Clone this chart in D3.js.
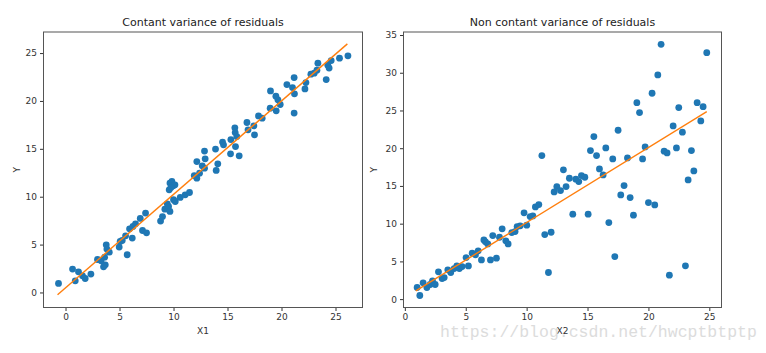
<!DOCTYPE html>
<html>
<head>
<meta charset="utf-8">
<script src="https://cdn.jsdelivr.net/npm/d3@7"></script>
<style>
  body { margin: 0; background: #fff; }
  text { font-family: "DejaVu Sans", sans-serif; }
</style>
</head>
<body>
<div id="chart"></div>
<script>
// left panel: constant variance
const x1 = [-0.65,0.65,0.9,1.2,1.57,1.82,2.35,2.96,3.3,3.52,3.68,3.62,3.77,3.83,4.05,4.97,5.06,5.25,5.56,5.71,
  5.93,6.18,6.24,6.48,6.92,7.13,7.5,7.41,8.8,8.98,9.2,9.42,9.54,9.67,9.6,9.67,9.85,9.97,10.13,9.76,
  10.0,10.16,10.62,11.08,11.48,11.92,12.16,12.41,12.16,12.66,12.87,13.95,14.1,12.87,12.93,13.89,14.54,14.63,15.28,15.31,
  15.74,15.68,15.71,16.08,15.86,16.8,16.9,17.44,17.5,17.87,18.21,18.98,18.95,19.48,19.51,19.67,19.88,20.5,21.02,21.17,
  21.2,21.17,22.17,22.26,22.72,23.03,23.28,23.37,24.14,24.29,24.41,24.6,25.37,26.15]
const y1 = [0.94,2.44,1.22,2.16,1.74,1.46,1.92,3.44,3.31,2.68,2.89,3.69,4.98,4.53,4.21,4.74,5.33,5.43,5.92,3.94,
  6.65,5.68,6.89,7.17,7.73,6.47,6.23,8.29,7.45,7.93,8.7,9.26,8.98,8.46,10.72,11.42,11.59,11.14,11.24,10.96,
  9.68,9.5,9.92,10.2,10.44,12.21,11.94,12.46,13.67,13.23,12.98,12.74,13.43,14.76,13.96,14.97,15.7,15.42,14.48,15.97,
  15.24,17.19,16.7,14.27,16.28,17.75,16.98,17.4,16.46,18.44,18.2,21.05,19.25,20.5,18.97,20.12,19.63,21.71,21.4,22.44,
  20.74,18.73,21.26,21.92,22.8,22.9,23.21,23.94,22.23,23.74,23.43,24.22,24.47,24.71]
const fit1X = [-0.74, 26.1]
const fit1Y = [-0.24, 25.96]

// right panel: non constant variance
const x2 = [1.01,1.23,1.5,1.81,2.08,2.27,2.49,2.76,3.06,3.23,3.53,3.77,4.05,4.27,4.48,4.7,5.03,5.22,5.53,5.8,
  6.02,6.29,6.49,6.62,6.81,7.03,7.22,7.52,7.77,7.99,8.29,8.48,8.78,9.05,9.22,9.47,9.79,10.01,10.29,10.51,
  10.72,11.0,11.49,12.01,11.79,12.26,12.48,12.78,13.02,13.24,13.51,13.79,14.04,14.28,14.5,14.78,15.05,15.98,16.28,16.75,
  17.24,17.73,18.0,18.5,18.77,20.0,20.52,21.72,23.04,23.26,23.73,11.25,15.24,15.52,15.74,16.5,17.07,17.51,18.28,19.05,
  19.27,19.52,19.73,20.3,20.77,21.04,21.29,21.53,22.03,22.3,22.49,22.79,23.53,24.0,24.3,24.49,24.79]
const y2 = [1.54,0.48,2.16,1.54,1.94,2.42,1.94,3.62,2.73,2.86,3.88,3.53,4.05,4.4,4.05,4.31,5.51,4.4,6.09,5.87,
  6.4,5.2,7.85,7.59,7.32,5.2,8.42,5.43,8.2,9.31,7.72,7.32,8.82,8.95,9.62,9.71,11.43,9.8,10.94,11.03,
  12.22,12.53,8.56,8.86,3.53,14.21,14.92,14.39,17.13,14.92,16.02,11.26,15.89,15.58,16.37,16.15,11.26,17.26,16.46,10.15,
  5.64,13.81,15.05,13.46,11.13,12.8,12.49,3.18,4.41,15.8,16.99,19.02,19.68,21.54,19.02,20.04,18.58,22.38,18.71,26.04,
  24.72,18.58,20.17,27.28,29.71,33.77,19.6,19.38,22.95,20.04,25.38,22.12,19.68,26.04,23.62,25.51,32.66]
const fit2X = [0.9, 24.79]
const fit2Y = [1.1, 24.85]

const ticks1X = [0, 5, 10, 15, 20, 25]
const ticks1Y = [0, 5, 10, 15, 20, 25]
const ticks2X = [0, 5, 10, 15, 20, 25]
const ticks2Y = [0, 5, 10, 15, 20, 25, 30, 35]

const W = 766, H = 353

let svg = d3.select("#chart").append("svg")
  .attr("width", W)
  .attr("height", H)

function panel(opt) {
  let g = svg.append("g")
  let xs = d3.scaleLinear().domain(opt.xDom).range([opt.left, opt.right])
  let ys = d3.scaleLinear().domain(opt.yDom).range([opt.bottom, opt.top])

  // axes (ticks + labels)
  let xAxis = d3.axisBottom(xs).tickValues(opt.xTicks).tickSize(3.5).tickPadding(3).tickFormat(d3.format("d"))
  let yAxis = d3.axisLeft(ys).tickValues(opt.yTicks).tickSize(3.5).tickPadding(3).tickFormat(d3.format("d"))

  let gx = g.append("g").attr("transform", "translate(0," + opt.bottom + ")").call(xAxis)
  let gy = g.append("g").attr("transform", "translate(" + opt.left + ",0)").call(yAxis)
  ;[gx, gy].forEach(a => {
    a.select(".domain").remove()
    a.selectAll("line").attr("stroke", "#333")
    a.selectAll("text").attr("fill", "#333").style("font-size", "9px")
  })

  // scatter
  g.append("g").selectAll("circle")
    .data(opt.xs.map((x, i) => [x, opt.ys[i]]))
    .join("circle")
    .attr("cx", d => xs(d[0]))
    .attr("cy", d => ys(d[1]))
    .attr("r", 3.4)
    .attr("fill", "#1f77b4")

  // fitted line
  let line = d3.line().x(d => xs(d[0])).y(d => ys(d[1]))
  g.append("path")
    .datum(opt.fitX.map((x, i) => [x, opt.fitY[i]]))
    .attr("d", line)
    .attr("fill", "none")
    .attr("stroke", "#ff7f0e")
    .attr("stroke-width", 1.4)

  // frame
  g.append("rect")
    .attr("x", opt.left).attr("y", opt.top)
    .attr("width", opt.right - opt.left).attr("height", opt.bottom - opt.top)
    .attr("fill", "none").attr("stroke", "#555").attr("stroke-width", 1)

  g.append("text")
    .attr("x", (opt.left + opt.right) / 2).attr("y", opt.top - 6)
    .attr("text-anchor", "middle")
    .style("font-size", "11px").attr("fill", "#222")
    .text(opt.title)

  g.append("text")
    .attr("x", (opt.left + opt.right) / 2).attr("y", opt.bottom + 26)
    .attr("text-anchor", "middle")
    .style("font-size", "9px").attr("fill", "#333")
    .text(opt.xLabel)

  g.append("text")
    .attr("transform", "translate(" + opt.yLabelX + "," + ((opt.top + opt.bottom) / 2) + ") rotate(-90)")
    .attr("text-anchor", "middle")
    .style("font-size", "9px").attr("fill", "#333")
    .text("Y")
}

panel({
  left: 43.5, right: 362.5, top: 32, bottom: 307.5,
  xDom: [-2.04, 27.5], yDom: [-1.57, 27.2],
  xTicks: ticks1X, yTicks: ticks1Y,
  xs: x1, ys: y1, fitX: fit1X, fitY: fit1Y,
  title: "Contant variance of residuals", xLabel: "X1", yLabelX: 20
})

panel({
  left: 403.5, right: 721.5, top: 32, bottom: 307.5,
  xDom: [-0.11, 26.0], yDom: [-1.11, 35.4],
  xTicks: ticks2X, yTicks: ticks2Y,
  xs: x2, ys: y2, fitX: fit2X, fitY: fit2Y,
  title: "Non contant variance of residuals", xLabel: "X2", yLabelX: 377
})

// watermark (sits over the X2 label in the source image as well)
svg.append("text")
  .attr("x", 440).attr("y", 337)
  .style("font-family", "'Liberation Mono', monospace")
  .style("font-size", "16.5px")
  .attr("fill", "#dcdcdc")
  .text("https://blog.csdn.net/hwcptbtptp")
</script>
</body>
</html>
